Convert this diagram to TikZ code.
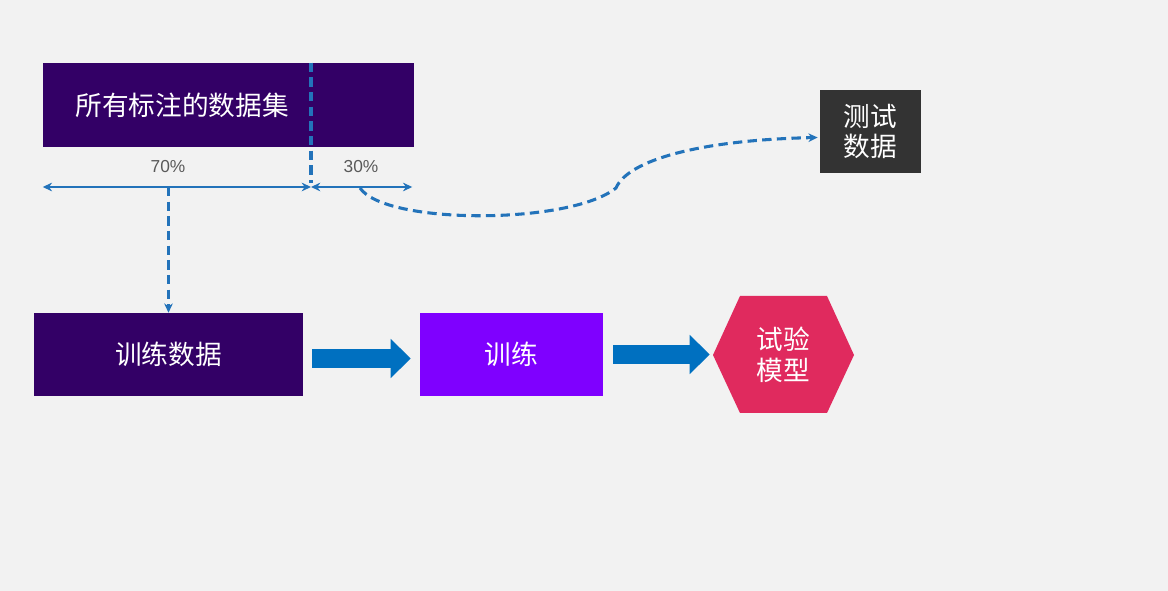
\documentclass[tikz,border=0pt]{standalone}
\usepackage{fontspec}
\setmainfont{Liberation Sans}
\newfontfamily\cjk{Noto Sans CJK SC}
\usetikzlibrary{arrows.meta}
\definecolor{bggray}{HTML}{F2F2F2}
\definecolor{darkpurple}{HTML}{330066}
\definecolor{violet}{HTML}{7F00FF}
\definecolor{modelred}{HTML}{E02A5E}
\definecolor{testgray}{HTML}{333333}
\definecolor{arrowblue}{HTML}{0070C0}
\definecolor{linkblue}{HTML}{2373BA}
\definecolor{pctgray}{HTML}{595959}
\begin{document}
\begin{tikzpicture}[x=0.75pt, y=-0.75pt,
    box/.style={inner sep=0pt, text=white, align=center, font=\cjk\fontsize{20}{23}\selectfont},
    pct/.style={text=pctgray, font=\fontsize{13}{15}\selectfont},
    dimarrow/.style={linkblue, line width=2pt, arrows={Stealth[length=7pt,width=6.5pt]-Stealth[length=7pt,width=6.5pt]}},
    dashlink/.style={linkblue, line width=2.3pt, dash pattern=on 7pt off 4pt},
    blockarrow/.style={arrowblue, line width=14.25pt, arrows={-Triangle[length=15pt,width=28.5pt]}}]
    % background and frame of the page
    \fill[bggray] (0,0) rectangle (1168,591);
    \useasboundingbox (0,0) rectangle (1168,591);

    % the whole labelled set and its split
    \node[box, fill=darkpurple, minimum width=278.25pt, minimum height=63pt] (alldata) at (228.5,105) {};
    \node[box] (alldatalabel) at (182,105) {所有标注的数据集};
    \coordinate (split) at (311,187);
    \draw[dimarrow] (alldata.west |- split) -- (split);
    \draw[dimarrow] (split) -- ([xshift=-1.5pt]alldata.east |- split);
    \draw[dashlink] (split |- alldata.north) -- ([yshift=3pt]split);
    \node[pct] (seventy) at (168,167) {70\%};
    \node[pct] (thirty) at (361,167) {30\%};

    % test data
    \node[box, fill=testgray, minimum width=75.75pt, minimum height=62.25pt] (test) at (870.5,131.5) {测试\\数据};
    \coordinate (curvestart) at (360,188);
    \draw[dashlink, -{Stealth[length=7pt,width=6.5pt]}] (curvestart) .. controls (385,225) and (570,225) .. (616,188)
        .. controls (628,160) and (700,140) .. ([xshift=-1.5pt, yshift=-4.5pt]test.west);

    % training pipeline
    \node[box, fill=darkpurple, minimum width=201.75pt, minimum height=62.25pt] (traindata) at (168.5,354.5) {训练数据};
    \node[box, fill=violet, minimum width=137.25pt, minimum height=62.25pt] (train) at (511.5,354.5) {训练};
    \fill[modelred] (713,355) -- (740,296) -- (827,296) -- (854,355) -- (827,413) -- (740,413) -- cycle;
    \node[box, minimum width=105.75pt, minimum height=87.75pt] (model) at (783.5,354.5) {试验\\模型};
    \draw[dashlink, -{Stealth[length=7pt,width=6.5pt]}] (traindata.north |- split) -- (traindata.north);
    \draw[blockarrow, shorten <=6.75pt, shorten >=6.75pt] ([yshift=-3pt]traindata.east) -- ([yshift=-3pt]train.west);
    \draw[blockarrow, shorten <=7.5pt, shorten >=2.25pt] (train.east) -- (model.west);
\end{tikzpicture}
\end{document}
